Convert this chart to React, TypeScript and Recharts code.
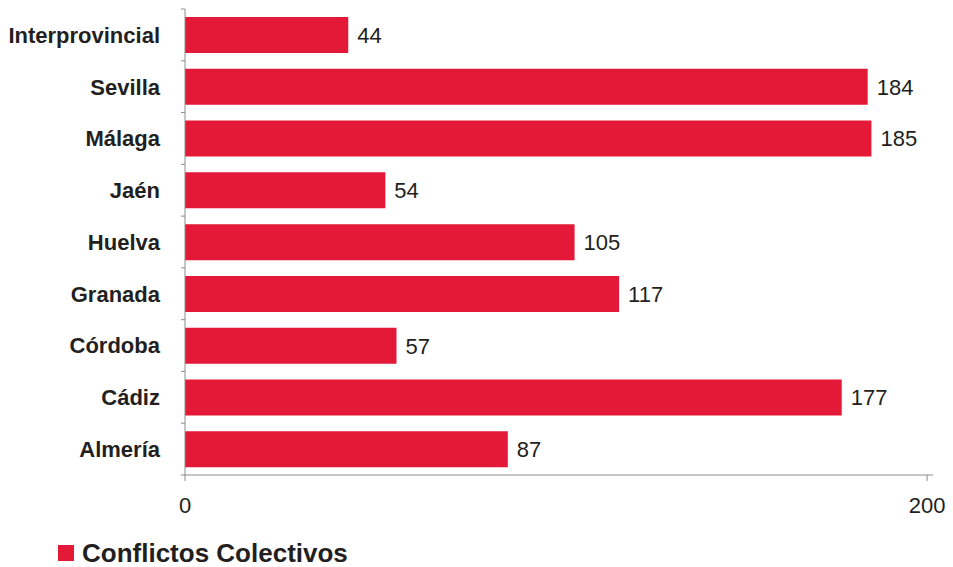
import React from 'react';
import { BarChart, Bar, XAxis, YAxis, LabelList } from 'recharts';

const categories = ['Interprovincial', 'Sevilla', 'Málaga', 'Jaén', 'Huelva', 'Granada', 'Córdoba', 'Cádiz', 'Almería'];
const conflictos = [44, 184, 185, 54, 105, 117, 57, 177, 87];
const xTicks = [0, 200];
const xDomainMax = 201.6;
const seriesName = 'Conflictos Colectivos';

const data = categories.map((c, i) => ({ name: c, value: conflictos[i] }));

const W = 953;
const H = 567;
const MARGIN = { top: 9, right: 20, bottom: 0, left: 0 };
const YAXIS_W = 185;
const XAXIS_H = 92;
const PLOT_H = H - MARGIN.top - MARGIN.bottom - XAXIS_H;
const BAND = PLOT_H / categories.length;

const BAR_COLOR = '#E31937';
const AXIS_COLOR = '#8C8C8C';
const TEXT_COLOR = '#231F20';
const FONT = '"Liberation Sans", Arial, Helvetica, sans-serif';

const YTick = (props: any) => {
  const { x, y, payload, index } = props;
  return (
    <g>
      {index === 0 && (
        <line x1={x - 4} x2={x} y1={y - BAND / 2} y2={y - BAND / 2} stroke={AXIS_COLOR} strokeWidth={1} />
      )}
      <line x1={x - 4} x2={x} y1={y + BAND / 2} y2={y + BAND / 2} stroke={AXIS_COLOR} strokeWidth={1} />
      <text
        x={x - 25}
        y={y}
        dy="0.36em"
        textAnchor="end"
        fontFamily={FONT}
        fontWeight="bold"
        fontSize={22}
        fill={TEXT_COLOR}
      >
        {payload.value}
      </text>
    </g>
  );
};

export default function App() {
  return (
    <div style={{ position: 'absolute', left: 0, top: 0, width: W, height: H, background: '#fff', overflow: 'hidden' }}>
      <BarChart width={W} height={H} data={data} layout="vertical" margin={MARGIN} barCategoryGap="15.5%">
        <XAxis
          type="number"
          domain={[0, xDomainMax]}
          ticks={xTicks}
          height={XAXIS_H}
          axisLine={{ stroke: AXIS_COLOR }}
          tickLine={{ stroke: AXIS_COLOR }}
          tickSize={6}
          tickMargin={16}
          tick={{ fontFamily: FONT, fontSize: 22, fill: TEXT_COLOR }}
        />
        <YAxis
          type="category"
          dataKey="name"
          width={YAXIS_W}
          axisLine={{ stroke: AXIS_COLOR }}
          tickLine={false}
          tickSize={0}
          tickMargin={0}
          tick={<YTick />}
          interval={0}
        />
        <Bar dataKey="value" name={seriesName} fill={BAR_COLOR} isAnimationActive={false}>
          <LabelList
            dataKey="value"
            position="right"
            offset={9}
            style={{ fontFamily: FONT, fontSize: 22, fill: TEXT_COLOR }}
          />
        </Bar>
      </BarChart>
      <div
        style={{
          position: 'absolute',
          left: 58,
          top: 541,
          height: 24,
          display: 'flex',
          alignItems: 'center',
          fontFamily: FONT,
          fontWeight: 'bold',
          fontSize: 26,
          lineHeight: '24px',
          color: TEXT_COLOR,
          whiteSpace: 'nowrap',
        }}
      >
        <span style={{ display: 'inline-block', width: 16, height: 16, background: BAR_COLOR, marginRight: 8 }} />
        <span>{seriesName}</span>
      </div>
    </div>
  );
}
